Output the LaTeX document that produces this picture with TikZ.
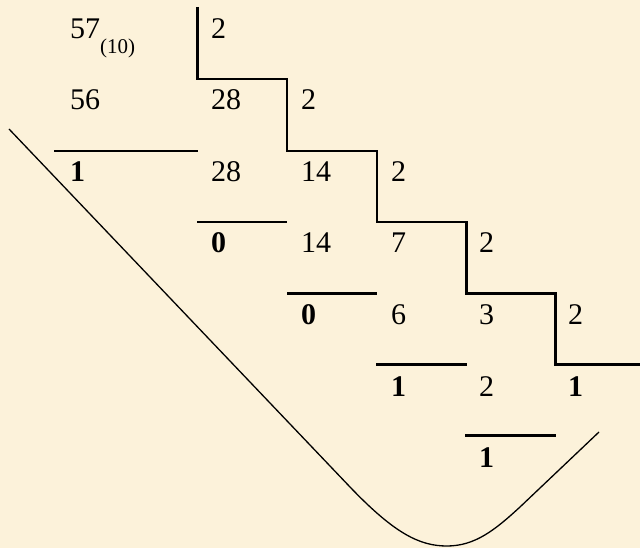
\documentclass[tikz,border=0pt]{standalone}
\usepackage{fontspec}
\setmainfont{Liberation Serif}
\definecolor{bg}{HTML}{FCF2DA}
\begin{document}
\begin{tikzpicture}[x=1pt,y=-1pt,
  num/.style={anchor=base west,inner sep=0pt,font=\fontsize{30}{35}\selectfont},
  rem/.style={num,font=\fontsize{30}{35}\selectfont\bfseries},
  stair/.style={line width=2.6pt,line join=miter},
  bar/.style={line width=2.4pt},
  hook/.style={line width=1.3pt,line join=round}]
\fill[bg] (0,0) rectangle (640,548);
\useasboundingbox (0,0) rectangle (640,548);
% column 0
\node[num] (a1) at (70,38.5) {57\raisebox{-15.5pt}{\fontsize{21}{25}\selectfont(10)}};
\node[num] (a2) at (70,110) {56};
\node[rem] (a3) at (70,181.5) {1};
% column 1
\node[num] (b1) at (211,38.5) {2};
\node[num] (b2) at (211,110) {28};
\node[num] (b3) at (211,181.5) {28};
\node[rem] (b4) at (211,253) {0};
% column 2
\node[num] (c2) at (301,110) {2};
\node[num] (c3) at (301,181.5) {14};
\node[num] (c4) at (301,253) {14};
\node[rem] (c5) at (301,324.5) {0};
% column 3
\node[num] (d3) at (391,181.5) {2};
\node[num] (d4) at (391,253) {7};
\node[num] (d5) at (391,324.5) {6};
\node[rem] (d6) at (391,396) {1};
% column 4
\node[num] (e4) at (479,253) {2};
\node[num] (e5) at (479,324.5) {3};
\node[num] (e6) at (479,396) {2};
\node[rem] (e7) at (479,467.5) {1};
% column 5
\node[num] (f5) at (568,324.5) {2};
\node[rem] (f6) at (568,396) {1};
% staircase of divisors
\draw[stair] (197.5,7) -- (197.5,79) -- (287,79) -- (287,151) -- (377,151)
  -- (377,222) -- (466.5,222) -- (466.5,293.5) -- (555.5,293.5) -- (555.5,364.5) -- (640,364.5);
% subtraction bars
\draw[bar] (54,151) -- (198,151);
\draw[bar] (197,222) -- (287,222);
\draw[bar] (287,293.5) -- (377,293.5);
\draw[bar] (376,364.5) -- (467,364.5);
\draw[bar] (465,435.5) -- (556,435.5);
% reading curve
\draw[hook] (9,129) -- (350,487) .. controls (395,534) and (420,546) .. (447,546)
  .. controls (475,546) and (495,530) .. (520,507) -- (599,432);
\end{tikzpicture}
\end{document}
